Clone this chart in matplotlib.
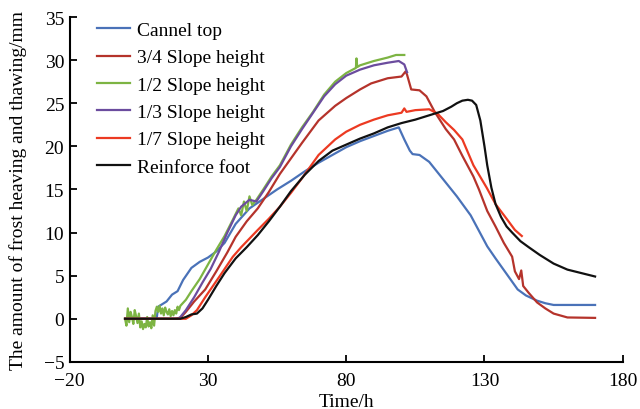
import matplotlib
matplotlib.use("Agg")
import matplotlib.pyplot as plt

plt.rcParams['font.family'] = ['Liberation Serif', 'DejaVu Serif']
plt.rcParams['font.size'] = 14

# Cannel top
blue_t = [0, 5, 10, 11.5, 12, 15, 17, 19, 21, 24, 27, 30, 33, 36, 40, 45, 50, 55, 60, 65, 70, 75,
          80, 85, 90, 95, 99, 100, 101, 103, 104, 106.5, 110, 116, 120, 125, 128, 131, 134, 138,
          142, 145, 149, 152, 155, 160, 170]
blue_y = [0, 0, 0, 0.2, 1.4, 2.0, 2.8, 3.2, 4.5, 5.9, 6.6, 7.1, 7.8, 8.8, 11.0, 12.8, 13.9, 15.0,
          16.0, 17.1, 18.1, 19.0, 19.9, 20.6, 21.2, 21.8, 22.2, 21.5, 20.8, 19.5, 19.1, 19.0, 18.2,
          15.8, 14.2, 12.0, 10.2, 8.4, 7.0, 5.2, 3.4, 2.7, 2.1, 1.8, 1.6, 1.6, 1.6]

# 3/4 Slope height
dred_t = [0, 10, 18, 20, 22, 25, 29, 33, 37, 40, 44, 48, 52, 56, 60, 64, 70, 76, 80, 85, 89, 95,
          100, 101.5, 102, 103.5, 106.5, 109, 112, 116, 119, 122, 126, 128, 131, 134, 137, 140,
          141, 142.5, 143.3, 144, 146, 149, 152, 155, 160, 170]
dred_y = [0, 0, 0, 0.1, 0.8, 2.0, 3.4, 5.5, 7.7, 9.5, 11.3, 12.8, 14.7, 16.8, 18.6, 20.4, 23.0,
          24.7, 25.6, 26.6, 27.3, 27.9, 28.1, 28.7, 28.3, 26.6, 26.5, 25.8, 24.0, 22.0, 20.8, 18.9,
          16.5, 15.0, 12.5, 10.7, 8.8, 7.2, 5.5, 4.6, 5.6, 3.8, 3.0, 1.9, 1.2, 0.6, 0.15, 0.1]

# 1/2 Slope height
green_t = [0, 0.5, 1, 1.5, 2, 2.5, 3, 3.5, 4, 4.5, 5, 5.5, 6, 6.5, 7, 7.5, 8, 8.5, 9, 9.5, 10,
           10.5, 11, 11.5, 12, 12.5, 13, 13.5, 14, 14.5, 15, 15.5, 16, 16.5, 17, 17.5, 18, 18.5,
           19, 19.5, 20, 22, 24, 27, 30, 33, 36, 39, 41, 42, 43, 44, 45, 46, 47.5, 50, 53, 56, 60,
           64, 68, 72, 76, 80, 83.5, 83.7, 84, 85, 90, 95, 98, 101]
green_y = [0, -0.8, 1.2, -0.4, 0.8, 0.2, -0.6, 1.0, 0.3, -0.5, 0.6, -1.0, -0.3, -1.2, -0.6, -1.0,
           0.2, -0.9, -0.4, -1.1, 0.4, -0.8, 0.9, 1.4, 0.8, 1.5, 0.6, 1.2, 0.4, 1.3, 0.8, 0.5, 1.1,
           0.3, 0.9, 0.4, 1.0, 0.6, 1.4, 1.0, 1.5, 2.2, 3.2, 4.6, 6.3, 8.0, 9.6, 11.5, 12.8, 12.0,
           13.6, 12.5, 14.2, 13.2, 13.8, 15.0, 16.5, 17.8, 20.2, 22.2, 24.0, 26.0, 27.5, 28.5, 29.1,
           30.2, 29.2, 29.4, 29.9, 30.3, 30.6, 30.6]

# 1/3 Slope height
purple_t = [0, 10, 19, 20, 22, 25, 28, 31, 34, 37, 40, 42, 45, 47.5, 50, 53, 56, 60, 64, 68, 72,
            76, 80, 85, 90, 95, 99, 101, 102]
purple_y = [0, 0, 0, 0.2, 1.0, 2.5, 4.2, 5.8, 7.8, 10.0, 12.0, 13.0, 13.8, 13.6, 14.8, 16.3, 17.6,
            20.0, 22.0, 23.9, 25.8, 27.2, 28.2, 28.9, 29.4, 29.7, 29.9, 29.5, 28.6]

# 1/7 Slope height
red_t = [0, 10, 20, 22, 24, 26, 29, 32, 35, 39, 42, 45, 48, 52, 56, 60, 64, 70, 76, 80, 85, 90,
         95, 100, 101, 101.8, 105, 110, 113, 116, 119, 122, 126, 130.8, 134, 138, 141, 143.5]
red_y = [0, 0, 0, 0, 0.4, 1.0, 2.5, 3.9, 5.3, 7.2, 8.3, 9.3, 10.3, 11.6, 13.0, 14.6, 16.3, 19.0,
         20.8, 21.7, 22.5, 23.1, 23.6, 23.9, 24.4, 24.0, 24.2, 24.3, 23.8, 22.8, 21.9, 20.8, 17.8,
         15.2, 13.3, 11.6, 10.3, 9.6]

# Reinforce foot
black_t = [0, 10, 20, 22, 24, 26, 28, 30, 33, 36, 40, 44, 48, 52, 56, 60, 65, 70, 75, 80, 85, 90,
           95, 100, 105, 110, 115, 118, 120, 122, 124, 125.5, 127, 128.5, 130, 131, 132.5, 134,
           136, 138, 140, 143, 146, 150, 155, 160, 165, 170]
black_y = [0, 0, 0, 0.2, 0.5, 0.6, 1.2, 2.2, 3.8, 5.3, 7.0, 8.3, 9.7, 11.3, 13.0, 14.8, 16.7, 18.3,
           19.5, 20.2, 20.9, 21.5, 22.2, 22.7, 23.1, 23.6, 24.1, 24.6, 25.0, 25.3, 25.4, 25.3, 24.8,
           23.0, 20.0, 17.8, 15.2, 13.3, 11.8, 10.7, 10.0, 9.0, 8.3, 7.4, 6.4, 5.7, 5.3, 4.9]

fig = plt.figure(figsize=(6.4, 4.1), dpi=100)
ax = fig.add_axes([0.109, 0.115, 0.864, 0.841])

lw = 1.6
ax.plot(blue_t, blue_y, color='#4a72b8', lw=lw, label='Cannel top')
ax.plot(dred_t, dred_y, color='#b5332b', lw=lw, label='3/4 Slope height')
ax.plot(green_t, green_y, color='#7db443', lw=lw, label='1/2 Slope height')
ax.plot(purple_t, purple_y, color='#6b4c9e', lw=lw, label='1/3 Slope height')
ax.plot(red_t, red_y, color='#ec3a22', lw=lw, label='1/7 Slope height')
ax.plot(black_t, black_y, color='#111111', lw=lw, label='Reinforce foot')

ax.set_xlim(-20, 180)
ax.set_ylim(-5, 35)
ax.set_xticks([-20, 30, 80, 130, 180])
ax.set_yticks(range(-5, 36, 5))
ax.tick_params(direction='in', length=5, width=1.3)
ax.tick_params(axis='x', pad=7)
ax.tick_params(axis='y', pad=4)
ax.spines['top'].set_visible(False)
ax.spines['right'].set_visible(False)
ax.spines['left'].set_linewidth(1.5)
ax.spines['bottom'].set_linewidth(1.5)

ax.set_xlabel('Time/h', labelpad=3)
ax.set_ylabel('The amount of frost heaving and thawing/mm')
ax.yaxis.set_label_coords(-0.078, 0.5)

ax.legend(loc='upper left', bbox_to_anchor=(0.036, 1.01), frameon=False,
          handlelength=1.65, labelspacing=0.5, handletextpad=0.4, borderaxespad=0)

fig.savefig('out.png', dpi=100)
